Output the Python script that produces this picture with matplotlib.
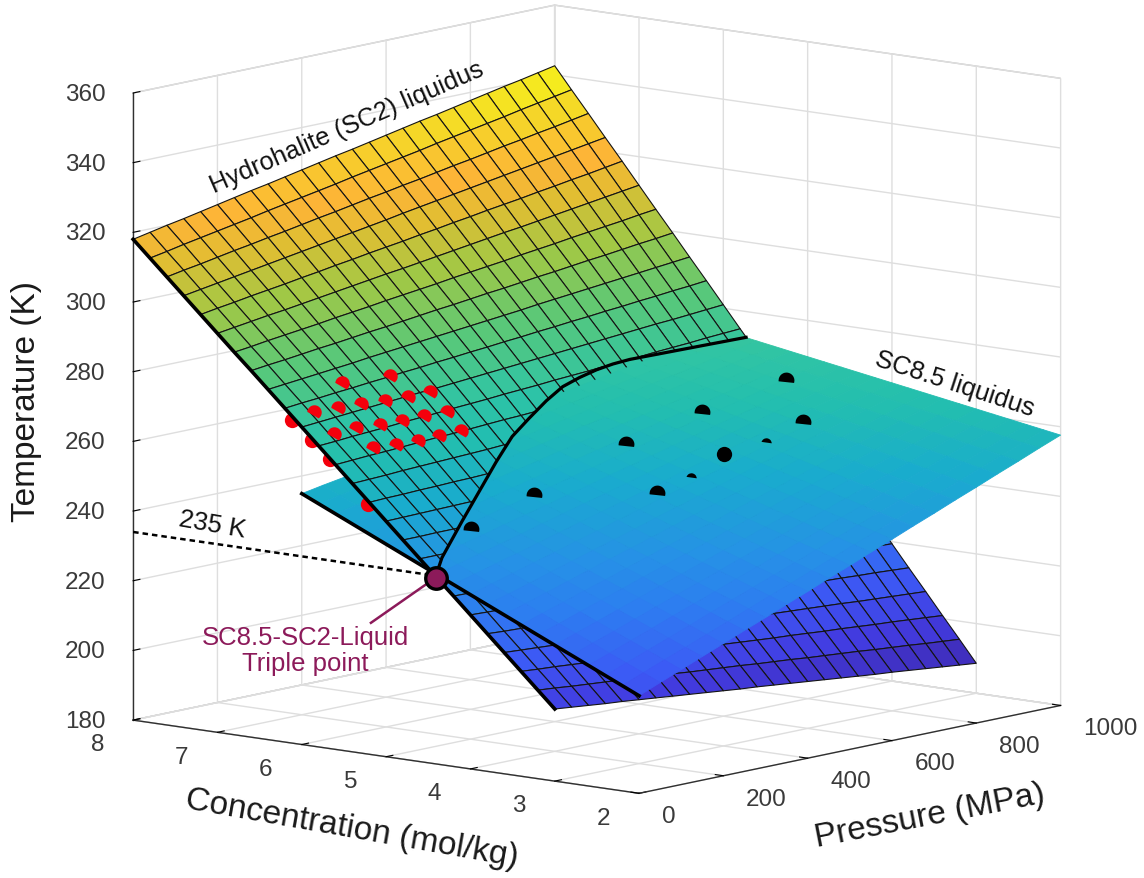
import numpy as np
import matplotlib
matplotlib.use('Agg')
import matplotlib.pyplot as plt
from matplotlib.colors import LinearSegmentedColormap, Normalize
from matplotlib.markers import MarkerStyle
from matplotlib.path import Path
from matplotlib.transforms import Affine2D
from mpl_toolkits.mplot3d import proj3d
from mpl_toolkits.mplot3d.art3d import Poly3DCollection

plt.rcParams['font.family'] = ['Liberation Sans', 'DejaVu Sans']

# hydrohalite (SC2) liquidus: rows = concentration, columns = pressure
sc2_conc = [8.0, 7.8, 7.6, 7.4, 7.2, 7.0, 6.8, 6.6, 6.4, 6.2, 6.0, 5.8, 5.6, 5.4, 5.2, 5.0, 4.8, 4.6, 4.4, 4.2, 4.0, 3.8, 3.6, 3.4, 3.2, 3.0]
sc2_press = [0, 40, 80, 120, 160, 200, 240, 280, 320, 360, 400, 440, 480, 520, 560, 600, 640, 680, 720, 760, 800, 840, 880, 920, 960, 1000]
sc2_temp = [
    [318.0,318.9,319.8,320.6,321.5,322.4,323.3,324.2,325.0,325.9,326.8,327.7,328.6,329.4,330.3,331.2,332.1,333.0,333.8,334.7,335.6,336.5,337.4,338.2,339.1,340.0],
    [313.3,314.1,315.0,315.8,316.6,317.4,318.2,319.1,319.9,320.7,321.5,322.3,323.2,324.0,324.8,325.6,326.4,327.3,328.1,328.9,329.7,330.5,331.4,332.2,333.0,333.8],
    [308.6,309.4,310.1,310.9,311.7,312.4,313.2,313.9,314.7,315.5,316.2,317.0,317.8,318.5,319.3,320.0,320.8,321.6,322.3,323.1,323.9,324.6,325.4,326.1,326.9,327.7],
    [303.9,304.6,305.3,306.0,306.7,307.4,308.1,308.8,309.5,310.2,310.9,311.6,312.3,313.1,313.8,314.5,315.2,315.9,316.6,317.3,318.0,318.7,319.4,320.1,320.8,321.5],
    [299.2,299.9,300.5,301.2,301.8,302.4,303.1,303.7,304.4,305.0,305.7,306.3,306.9,307.6,308.2,308.9,309.5,310.2,310.8,311.4,312.1,312.7,313.4,314.0,314.7,315.4],
    [294.5,295.1,295.7,296.3,296.8,297.4,298.0,298.6,299.2,299.8,300.4,300.9,301.5,302.1,302.7,303.3,303.9,304.5,305.0,305.6,306.2,306.8,307.4,308.0,308.6,309.2],
    [289.8,290.3,290.9,291.4,291.9,292.4,293.0,293.5,294.0,294.6,295.1,295.6,296.1,296.7,297.2,297.7,298.2,298.8,299.3,299.8,300.4,300.9,301.4,301.9,302.5,303.0],
    [285.2,285.7,286.1,286.6,287.1,287.5,288.0,288.5,288.9,289.4,289.9,290.4,290.8,291.3,291.8,292.2,292.7,293.2,293.6,294.1,294.6,295.0,295.5,296.0,296.4,296.9],
    [280.5,280.9,281.3,281.7,282.1,282.5,283.0,283.4,283.8,284.2,284.6,285.0,285.4,285.8,286.2,286.6,287.1,287.5,287.9,288.3,288.7,289.1,289.5,289.9,290.3,290.7],
    [275.8,276.2,276.5,276.9,277.2,277.6,277.9,278.3,278.6,279.0,279.3,279.7,280.0,280.4,280.7,281.1,281.4,281.8,282.1,282.5,282.8,283.2,283.5,283.9,284.2,284.6],
    [271.1,271.4,271.7,272.0,272.3,272.6,272.9,273.2,273.4,273.7,274.0,274.3,274.6,274.9,275.2,275.5,275.8,276.1,276.4,276.7,277.0,277.3,277.5,277.8,278.1,278.4],
    [266.4,266.6,266.9,267.1,267.3,267.6,267.8,268.0,268.3,268.5,268.7,269.0,269.2,269.4,269.7,269.9,270.1,270.4,270.6,270.8,271.1,271.3,271.5,271.8,272.0,272.2],
    [261.7,261.9,262.1,262.2,262.4,262.6,262.8,262.9,263.1,263.3,263.5,263.6,263.8,264.0,264.2,264.3,264.5,264.7,264.9,265.0,265.2,265.4,265.6,265.7,265.9,266.1],
    [257.0,257.1,257.2,257.4,257.5,257.6,257.7,257.8,257.9,258.1,258.2,258.3,258.4,258.5,258.6,258.8,258.9,259.0,259.1,259.2,259.3,259.5,259.6,259.7,259.8,259.9],
    [252.3,252.4,252.4,252.5,252.5,252.6,252.6,252.7,252.8,252.8,252.9,252.9,253.0,253.1,253.1,253.2,253.2,253.3,253.3,253.4,253.5,253.5,253.6,253.6,253.7,253.8],
    [247.6,247.6,247.6,247.6,247.6,247.6,247.6,247.6,247.6,247.6,247.6,247.6,247.6,247.6,247.6,247.6,247.6,247.6,247.6,247.6,247.6,247.6,247.6,247.6,247.6,247.6],
    [242.9,242.8,242.8,242.7,242.7,242.6,242.5,242.5,242.4,242.4,242.3,242.3,242.2,242.1,242.1,242.0,242.0,241.9,241.8,241.8,241.7,241.7,241.6,241.5,241.5,241.4],
    [238.2,238.1,238.0,237.8,237.7,237.6,237.5,237.4,237.3,237.1,237.0,236.9,236.8,236.7,236.5,236.4,236.3,236.2,236.1,236.0,235.8,235.7,235.6,235.5,235.4,235.3],
    [233.5,233.3,233.1,233.0,232.8,232.6,232.4,232.3,232.1,231.9,231.7,231.6,231.4,231.2,231.0,230.8,230.7,230.5,230.3,230.1,230.0,229.8,229.6,229.4,229.3,229.1],
    [228.9,228.7,228.4,228.2,228.0,227.7,227.5,227.2,227.0,226.8,226.5,226.3,226.1,225.8,225.6,225.4,225.1,224.9,224.6,224.4,224.2,223.9,223.7,223.5,223.2,223.0],
    [224.2,223.9,223.6,223.3,223.0,222.7,222.4,222.1,221.8,221.5,221.2,220.9,220.7,220.4,220.1,219.8,219.5,219.2,218.9,218.6,218.3,218.0,217.7,217.4,217.1,216.8],
    [219.5,219.1,218.8,218.4,218.1,217.7,217.4,217.0,216.7,216.3,216.0,215.6,215.3,214.9,214.6,214.2,213.9,213.5,213.2,212.8,212.4,212.1,211.7,211.4,211.0,210.6],
    [214.8,214.4,214.0,213.6,213.2,212.7,212.3,211.9,211.5,211.1,210.7,210.3,209.9,209.4,209.0,208.6,208.2,207.8,207.4,207.0,206.6,206.1,205.7,205.3,204.9,204.5],
    [210.1,209.6,209.2,208.7,208.2,207.7,207.3,206.8,206.3,205.9,205.4,204.9,204.5,204.0,203.5,203.0,202.6,202.1,201.6,201.2,200.7,200.2,199.8,199.3,198.8,198.3],
    [205.4,204.9,204.3,203.8,203.3,202.8,202.2,201.7,201.2,200.6,200.1,199.6,199.1,198.5,198.0,197.5,196.9,196.4,195.9,195.4,194.8,194.3,193.8,193.2,192.7,192.2],
    [200.7,200.1,199.5,198.9,198.4,197.8,197.2,196.6,196.0,195.4,194.8,194.2,193.7,193.1,192.5,191.9,191.3,190.7,190.1,189.5,189.0,188.4,187.8,187.2,186.6,186.0],
]

# SC8.5 liquidus
sc85_conc = [2.0, 2.2, 2.4, 2.6, 2.8, 3.0, 3.2, 3.4, 3.6, 3.8, 4.0, 4.2, 4.4, 4.6, 4.8, 5.0, 5.2, 5.4, 5.6, 5.8, 6.0]
sc85_press = [0, 50, 100, 150, 200, 250, 300, 350, 400, 450, 500, 550, 600, 650, 700, 750, 800, 850, 900, 950, 1000]
sc85_temp = [
    [208.0,210.4,212.7,215.1,217.4,219.8,222.1,224.5,226.8,229.2,231.5,233.9,236.2,238.6,240.9,243.3,245.6,248.0,250.3,252.7,255.0],
    [210.2,212.5,214.8,217.0,219.3,221.6,223.9,226.2,228.4,230.7,233.0,235.3,237.6,239.8,242.1,244.4,246.7,249.0,251.2,253.5,255.8],
    [212.4,214.6,216.8,219.0,221.2,223.5,225.7,227.9,230.1,232.3,234.5,236.7,238.9,241.1,243.3,245.6,247.8,250.0,252.2,254.4,256.6],
    [214.6,216.7,218.9,221.0,223.2,225.3,227.4,229.6,231.7,233.9,236.0,238.1,240.3,242.4,244.6,246.7,248.8,251.0,253.1,255.3,257.4],
    [216.8,218.9,220.9,223.0,225.1,227.2,229.2,231.3,233.4,235.4,237.5,239.6,241.6,243.7,245.8,247.9,249.9,252.0,254.1,256.1,258.2],
    [219.0,221.0,223.0,225.0,227.0,229.0,231.0,233.0,235.0,237.0,239.0,241.0,243.0,245.0,247.0,249.0,251.0,253.0,255.0,257.0,259.0],
    [221.2,223.1,225.1,227.0,228.9,230.9,232.8,234.7,236.6,238.6,240.5,242.4,244.4,246.3,248.2,250.2,252.1,254.0,255.9,257.9,259.8],
    [223.4,225.3,227.1,229.0,230.8,232.7,234.6,236.4,238.3,240.1,242.0,243.9,245.7,247.6,249.4,251.3,253.2,255.0,256.9,258.7,260.6],
    [225.6,227.4,229.2,231.0,232.8,234.6,236.3,238.1,239.9,241.7,243.5,245.3,247.1,248.9,250.7,252.5,254.2,256.0,257.8,259.6,261.4],
    [227.8,229.5,231.2,233.0,234.7,236.4,238.1,239.8,241.6,243.3,245.0,246.7,248.4,250.2,251.9,253.6,255.3,257.0,258.8,260.5,262.2],
    [230.0,231.7,233.3,235.0,236.6,238.3,239.9,241.6,243.2,244.9,246.5,248.2,249.8,251.5,253.1,254.8,256.4,258.1,259.7,261.4,263.0],
    [232.2,233.8,235.4,236.9,238.5,240.1,241.7,243.3,244.8,246.4,248.0,249.6,251.2,252.7,254.3,255.9,257.5,259.1,260.6,262.2,263.8],
    [234.4,235.9,237.4,238.9,240.4,242.0,243.5,245.0,246.5,248.0,249.5,251.0,252.5,254.0,255.5,257.0,258.6,260.1,261.6,263.1,264.6],
    [236.6,238.0,239.5,240.9,242.4,243.8,245.2,246.7,248.1,249.6,251.0,252.4,253.9,255.3,256.8,258.2,259.6,261.1,262.5,264.0,265.4],
    [238.8,240.2,241.5,242.9,244.3,245.7,247.0,248.4,249.8,251.1,252.5,253.9,255.2,256.6,258.0,259.4,260.7,262.1,263.5,264.8,266.2],
    [241.0,242.3,243.6,244.9,246.2,247.5,248.8,250.1,251.4,252.7,254.0,255.3,256.6,257.9,259.2,260.5,261.8,263.1,264.4,265.7,267.0],
    [243.2,244.4,245.7,246.9,248.1,249.4,250.6,251.8,253.0,254.3,255.5,256.7,258.0,259.2,260.4,261.7,262.9,264.1,265.3,266.6,267.8],
    [245.4,246.6,247.7,248.9,250.0,251.2,252.4,253.5,254.7,255.8,257.0,258.2,259.3,260.5,261.6,262.8,264.0,265.1,266.3,267.4,268.6],
    [247.6,248.7,249.8,250.9,252.0,253.0,254.1,255.2,256.3,257.4,258.5,259.6,260.7,261.8,262.9,264.0,265.0,266.1,267.2,268.3,269.4],
    [249.8,250.8,251.8,252.9,253.9,254.9,255.9,256.9,258.0,259.0,260.0,261.0,262.0,263.1,264.1,265.1,266.1,267.1,268.2,269.2,270.2],
    [252.0,253.0,253.9,254.9,255.8,256.8,257.7,258.7,259.6,260.6,261.5,262.5,263.4,264.4,265.3,266.3,267.2,268.2,269.1,270.1,271.0],
]

# where the two liquidus surfaces meet
curve_press = [0, 46, 150, 235, 317, 389, 451, 512, 566, 613, 657, 698, 738, 813, 889, 1000]
curve_conc = [4.41, 4.567, 4.85, 5.07, 5.28, 5.45, 5.56, 5.66, 5.735, 5.77, 5.79, 5.80, 5.80, 5.78, 5.76, 5.73]
curve_temp = [234.0, 237.4, 243.9, 249.4, 254.8, 259.5, 262.6, 265.6, 267.9, 269.1, 270.0, 270.5, 270.7, 270.5, 270.3, 270.0]

# SC2 measurements sitting on the surface
red_conc = [6.21, 6.27, 5.98, 5.99, 6.01, 6.05, 6.07, 6.10, 5.77, 5.79, 5.80, 5.82, 5.86, 5.86, 5.57, 5.59, 5.60, 5.62, 5.65]
red_press = [251, 149, 300, 250, 199, 150, 99, 50, 299, 248, 198, 149, 100, 48, 292, 244, 195, 147, 98]
red_temp = [278.0, 278.6, 272.9, 272.8, 273.0, 273.4, 273.6, 273.7, 268.0, 268.1, 268.1, 268.2, 268.6, 268.3, 263.5, 263.3, 263.2, 263.3, 263.7]
# SC2 measurements just behind the edge at 0 MPa
red_edge_conc = [6.12, 5.88, 5.66, 5.22]
red_edge_press = [0, 0, 0, 0]
red_edge_temp = [272.7, 267.9, 263.2, 251.9]

# SC8.5 measurements
black_conc = [4.85, 4.93, 4.13, 4.96, 4.13, 4.84, 4.78]
black_press = [919, 735, 815, 562, 468, 319, 157]
black_temp = [263.1, 258.7, 256.5, 254.3, 245.6, 246.9, 241.9]
black_small_conc = [4.10, 4.12]
black_small_press = [721, 547]
black_small_temp = [253.2, 247.8]
black_full = [4.17, 635, 252.1]

triple_point = [4.41, 0, 233.5]
dotted_temp = 234
callout_end = [5.18, 0, 217.8]

conc_ticks = [2, 3, 4, 5, 6, 7, 8]
press_ticks = [0, 200, 400, 600, 800, 1000]
temp_ticks = [180, 200, 220, 240, 260, 280, 300, 320, 340, 360]

# colour against temperature, sampled from the surfaces
color_temps = [186, 200, 212, 225, 235, 250, 262, 270, 285, 300, 312, 320, 332, 343]
color_rgb = [(62, 38, 168), (66, 60, 225), (60, 90, 245), (45, 125, 240), (38, 145, 230), (25, 172, 205), (35, 190, 175),
             (47, 196, 165), (90, 200, 120), (160, 200, 70), (225, 190, 50), (253, 180, 55), (245, 215, 40), (245, 245, 25)]
norm = Normalize(color_temps[0], color_temps[-1])
parula = LinearSegmentedColormap.from_list(
    'parula', [(float(norm(t)), tuple(v / 255 for v in c)) for t, c in zip(color_temps, color_rgb)])
MAROON = '#8c1a5a'

# values above were read with the view tilted a little too much, this puts them back
TILT_FIX = 0.0026
sc2_temp = np.array(sc2_temp) + TILT_FIX * np.array(sc2_press)
sc85_temp = np.array(sc85_temp) + TILT_FIX * np.array(sc85_press)
curve_temp = np.array(curve_temp) + TILT_FIX * np.array(curve_press)
red_temp = np.array(red_temp) + TILT_FIX * np.array(red_press)
black_temp = np.array(black_temp) + TILT_FIX * np.array(black_press)
black_small_temp = np.array(black_small_temp) + TILT_FIX * np.array(black_small_press)
black_full[2] += TILT_FIX * black_full[1]


def clipped_cells(conc, press, temp, keep_upper):
    """Cut the grid cells along the meeting curve, returns polygons for one side."""
    polys = []
    for i in range(len(conc) - 1):
        for j in range(len(press) - 1):
            quad = [(conc[i], press[j], temp[i, j]), (conc[i + 1], press[j], temp[i + 1, j]),
                    (conc[i + 1], press[j + 1], temp[i + 1, j + 1]), (conc[i], press[j + 1], temp[i, j + 1])]
            side = [(q[0] - np.interp(q[1], curve_press, curve_conc)) * (1 if keep_upper else -1) for q in quad]
            out = []
            for k in range(4):
                a, b = np.array(quad[k]), np.array(quad[(k + 1) % 4])
                da, db = side[k], side[(k + 1) % 4]
                if da >= 0:
                    out.append(a)
                if da * db < 0:
                    out.append(a + (b - a) * da / (da - db))
            if len(out) >= 3:
                polys.append(np.array(out))
    return polys


def add_mesh(ax, polys, zorder):
    cols = parula(norm([p[:, 2].mean() for p in polys]))
    ax.add_collection3d(Poly3DCollection(polys, facecolors=cols, edgecolors='#141414',
                                         linewidths=0.8, zorder=zorder, clip_on=False))


def add_smooth(ax, conc, press, temp, zorder):
    polys = []
    for i in range(len(conc) - 1):
        for j in range(len(press) - 1):
            polys.append(np.array([(conc[i], press[j], temp[i, j]), (conc[i + 1], press[j], temp[i + 1, j]),
                                   (conc[i + 1], press[j + 1], temp[i + 1, j + 1]), (conc[i], press[j + 1], temp[i, j + 1])]))
    cols = parula(norm([p[:, 2].mean() for p in polys]))
    ax.add_collection3d(Poly3DCollection(polys, facecolors=cols, edgecolors=cols, linewidths=0.6,
                                         zorder=zorder, clip_on=False))


def dome(angle, cut):
    # a dot poking out of the surface, only the part above the cut shows
    arc = Path.arc(-cut, 180 + cut)
    path = Path(np.vstack([arc.vertices, arc.vertices[0]]), list(arc.codes) + [Path.CLOSEPOLY])
    return MarkerStyle(path, transform=Affine2D().rotate_deg(angle))


def px_text(fig, x, y, s, **kw):
    fig.text(x / 1144, 1 - y / 879, s, ha='center', va='center', **kw)


def tick_text(ax, c, p, t, s, ha):
    # flat text placed through the 3d projection, next to the tick it belongs to
    x2, y2, _ = proj3d.proj_transform(c, p, t, ax.get_proj())
    ax.text2D(x2, y2, s, transform=ax.transData, fontsize=17.5, color='#3a3a3a', ha=ha, va='center', clip_on=False)


fig = plt.figure(figsize=(11.44, 8.79), dpi=100)
ax = fig.add_axes([13 / 1144, 27.4 / 879, 1, 1], projection='3d', computed_zorder=False)
ax.set_proj_type('ortho')
ax.view_init(elev=10.0, azim=-50.2)
ax.set_box_aspect((1, 1, 0.967), zoom=1.246)
ax.set_xlim(8, 2)
ax.set_ylim(0, 1000)
ax.set_zlim(180, 360)

for axis in (ax.xaxis, ax.yaxis, ax.zaxis):
    axis.set_pane_color((1, 1, 1, 1))
    axis.pane.set_edgecolor('#c4c4c4')
    axis.line.set_color('#303030')
    axis.line.set_linewidth(1.0)
    axis._axinfo['grid'].update(color='#dedede', linewidth=1.0)
    axis._axinfo['tick'].update(inward_factor=0.0, outward_factor=0.2)
ax.grid(True)
ax.set_xticks(conc_ticks, labels=[])
ax.set_yticks(press_ticks, labels=[])
ax.set_zticks(temp_ticks, labels=[])
ax.zaxis.set_ticks_position('lower')

for c in conc_ticks:
    tick_text(ax, c, -85, 175.2, str(c), 'center')
for p in press_ticks:
    tick_text(ax, 1.73, p, 174.4, str(p), 'left')
for t in temp_ticks:
    tick_text(ax, 8.57, 0, t - 2.3, str(t), 'center')

# order matters, the surfaces cut each other
add_mesh(ax, clipped_cells(sc2_conc, sc2_press, sc2_temp, False), 1)
add_smooth(ax, sc85_conc, sc85_press, sc85_temp, 2)
ax.plot(black_conc, black_press, black_temp, ls='none', marker=dome(-6, 12), ms=11.5, color='k', mew=0, zorder=3, clip_on=False)
ax.plot(black_small_conc, black_small_press, black_small_temp, ls='none', marker=dome(-8, -10), ms=7.5, color='k', mew=0, zorder=3, clip_on=False)
ax.plot([black_full[0]], [black_full[1]], [black_full[2]], ls='none', marker='o', ms=11, color='k', mew=0, zorder=3, clip_on=False)
ax.plot(red_edge_conc, red_edge_press, red_edge_temp, ls='none', marker='o', ms=11, color='#f4000c', mew=0, zorder=3, clip_on=False)
add_mesh(ax, clipped_cells(sc2_conc, sc2_press, sc2_temp, True), 4)
ax.plot(red_conc, red_press, red_temp, ls='none', marker=dome(-30, 25), ms=10.5, color='#f4000c', mew=0, zorder=5, clip_on=False)

# thick edges and the meeting curve
ax.plot(sc2_conc, [sc2_press[0]] * len(sc2_conc), sc2_temp[:, 0], color='k', lw=2.6, zorder=6, clip_on=False)
ax.plot(sc85_conc, [sc85_press[0]] * len(sc85_conc), sc85_temp[:, 0], color='k', lw=2.6, zorder=6, clip_on=False)
ax.plot(curve_conc, curve_press, curve_temp, color='k', lw=2.3, zorder=6, clip_on=False)

ax.plot([8, triple_point[0]], [0, 0], [dotted_temp, dotted_temp], color='k', ls=(0, (2.2, 1.6)), lw=1.8, zorder=6, clip_on=False)
ax.plot([triple_point[0], callout_end[0]], [0, 0], [triple_point[2], callout_end[2]], color=MAROON, lw=1.8, zorder=6, clip_on=False)
ax.plot([triple_point[0]], [0], [triple_point[2]], ls='none', marker='o', ms=15.5, mfc=MAROON, mec='k', mew=2.4, zorder=7, clip_on=False)

px_text(fig, 347, 128, 'Hydrohalite (SC2) liquidus', fontsize=18.3, rotation=23.6, color='#101010')
px_text(fig, 955, 384, 'SC8.5 liquidus', fontsize=18.5, rotation=-18, color='#101010')
px_text(fig, 212, 525, '235 K', fontsize=18.5, rotation=-10, color='#101010')
px_text(fig, 305, 651, 'SC8.5-SC2-Liquid\nTriple point', fontsize=18.5, color=MAROON, linespacing=1.15)
px_text(fig, 27, 401, 'Temperature (K)', fontsize=24, rotation=90, color='#1a1a1a')
px_text(fig, 352, 829, 'Concentration (mol/kg)', fontsize=24, rotation=-10, color='#1a1a1a')
px_text(fig, 930, 816, 'Pressure (MPa)', fontsize=24, rotation=11, color='#1a1a1a')

fig.savefig('out.png', dpi=100)
